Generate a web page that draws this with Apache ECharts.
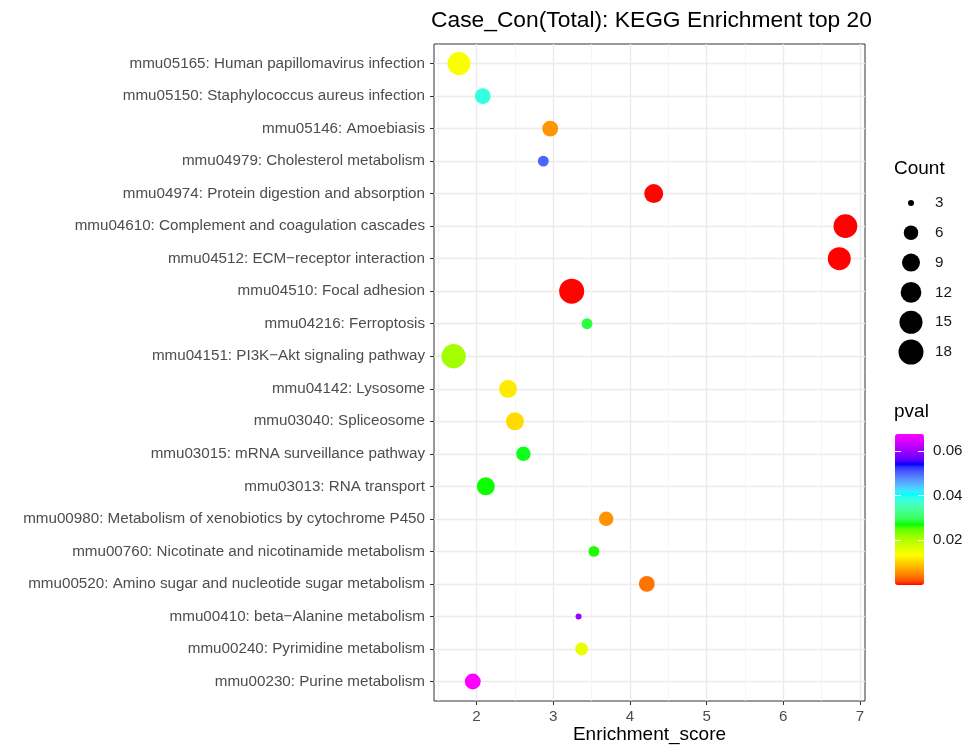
<!DOCTYPE html>
<html>
<head>
<meta charset="utf-8">
<script src="https://cdn.jsdelivr.net/npm/echarts@6/dist/echarts.min.js"></script>
<style>html,body{margin:0;padding:0;background:#fff;overflow:hidden}#c{width:968px;height:747px}</style>
</head>
<body>
<div id="c"></div>
<script>
const terms = [
  "mmu05165: Human papillomavirus infection",
  "mmu05150: Staphylococcus aureus infection",
  "mmu05146: Amoebiasis",
  "mmu04979: Cholesterol metabolism",
  "mmu04974: Protein digestion and absorption",
  "mmu04610: Complement and coagulation cascades",
  "mmu04512: ECM\u2212receptor interaction",
  "mmu04510: Focal adhesion",
  "mmu04216: Ferroptosis",
  "mmu04151: PI3K\u2212Akt signaling pathway",
  "mmu04142: Lysosome",
  "mmu03040: Spliceosome",
  "mmu03015: mRNA surveillance pathway",
  "mmu03013: RNA transport",
  "mmu00980: Metabolism of xenobiotics by cytochrome P450",
  "mmu00760: Nicotinate and nicotinamide metabolism",
  "mmu00520: Amino sugar and nucleotide sugar metabolism",
  "mmu00410: beta\u2212Alanine metabolism",
  "mmu00240: Pyrimidine metabolism",
  "mmu00230: Purine metabolism"
];
const enrichment = [1.77, 2.08, 2.96, 2.87, 4.31, 6.81, 6.73, 3.24, 3.44, 1.70, 2.41, 2.50, 2.61, 2.12, 3.69, 3.53, 4.22, 3.33, 3.37, 1.95];
const counts = [15, 7, 7, 4, 10, 16, 15, 18, 4, 17, 9, 9, 6, 9, 6, 4, 7, 3, 5, 7];
const pvals = [0.0140, 0.0385, 0.0060, 0.0500, 0.0001, 0.00001, 0.00002, 0.00005, 0.0285, 0.0210, 0.0120, 0.0108, 0.0275, 0.0268, 0.0058, 0.0265, 0.0038, 0.0595, 0.0155, 0.0675];

const xMajorTicks = [2, 3, 4, 5, 6, 7];
const xMinorTicks = [1.5, 2.5, 3.5, 4.5, 5.5, 6.5];
const countTicks = [3, 6, 9, 12, 15, 18];
const pvalTicks = [0.02, 0.04, 0.06];
const paletteStops = ['#FF0000', '#FFFF00', '#00FF00', '#00FFFF', '#0000FF', '#FF00FF'];

// palette interpolated in CIE Lab (like ggplot's gradientn)
function hex2rgb(h){return [1,3,5].map(i=>parseInt(h.slice(i,i+2),16)/255);}
function lin(c){return c<=0.04045?c/12.92:Math.pow((c+0.055)/1.055,2.4);}
function delin(c){return c<=0.0031308?12.92*c:1.055*Math.pow(c,1/2.4)-0.055;}
const WX=0.95047, WY=1, WZ=1.08883;
function rgb2lab(rgb){
  const [r,g,b]=rgb.map(lin);
  const X=(0.4124*r+0.3576*g+0.1805*b)/WX, Y=(0.2126*r+0.7152*g+0.0722*b)/WY, Z=(0.0193*r+0.1192*g+0.9505*b)/WZ;
  const f=t=>t>0.008856?Math.cbrt(t):7.787*t+16/116;
  return [116*f(Y)-16, 500*(f(X)-f(Y)), 200*(f(Y)-f(Z))];
}
function lab2hex(lab){
  const fy=(lab[0]+16)/116, fx=fy+lab[1]/500, fz=fy-lab[2]/200;
  const fi=t=>t*t*t>0.008856?t*t*t:(t-16/116)/7.787;
  const X=fi(fx)*WX, Y=fi(fy)*WY, Z=fi(fz)*WZ;
  const r= 3.2406*X-1.5372*Y-0.4986*Z, g=-0.9689*X+1.8758*Y+0.0415*Z, b=0.0557*X-0.2040*Y+1.0570*Z;
  return '#'+[r,g,b].map(c=>{const v=Math.round(Math.min(1,Math.max(0,delin(Math.min(1,Math.max(0,c)))))*255);return v.toString(16).padStart(2,'0');}).join('');
}
const labStops = paletteStops.map(h=>rgb2lab(hex2rgb(h)));
const gradColors = [];
for (let s = 0; s < labStops.length - 1; s++) {
  for (let k = 0; k < 12; k++) {
    const t = k / 12, a = labStops[s], b = labStops[s + 1];
    gradColors.push(lab2hex([0,1,2].map(j => a[j] + (b[j] - a[j]) * t)));
  }
}
gradColors.push(paletteStops[paletteStops.length - 1]);

const cMin = Math.min(...counts), cMax = Math.max(...counts);
function sizeOf(c) { return 6 + 19 * Math.sqrt((c - cMin) / (cMax - cMin)); }

const xMin = Math.min(...enrichment), xMax = Math.max(...enrichment);
const xPad = (xMax - xMin) * 0.05;
const pMin = 0, pMax = Math.max(...pvals);

const mainData = terms.map((t, i) => [enrichment[i], i, counts[i], pvals[i]]);
const legendData = countTicks.map((c, i) => [0.5, i, c]);
const rowIdx = terms.map((t, i) => i);

const FONT = 'Liberation Sans, Arial, sans-serif';
const chart = echarts.init(document.getElementById('c'), null, {renderer: 'canvas', width: 968, height: 747});
chart.setOption({
  animation: false,
  backgroundColor: '#ffffff',
  textStyle: {fontFamily: FONT},
  title: {
    text: 'Case_Con(Total): KEGG Enrichment top 20',
    left: 431, top: 9, padding: 0,
    textStyle: {fontFamily: FONT, fontSize: 22.8, fontWeight: 'normal', color: '#000'}
  },
  grid: [
    {left: 434, right: 103, top: 44, bottom: 46, show: true, borderColor: '#333333', borderWidth: 1, backgroundColor: '#fff', containLabel: false, outerBoundsMode: 'none'},
    {left: 896, width: 30, top: 188, height: 179, show: false, containLabel: false, outerBoundsMode: 'none'},
    {left: 895, width: 29, top: 434, height: 151, show: false, containLabel: false, outerBoundsMode: 'none'}
  ],
  xAxis: [
    {
      gridIndex: 0, type: 'value', min: xMin - xPad, max: xMax + xPad, position: 'bottom',
      name: 'Enrichment_score', nameLocation: 'middle', nameGap: 24, nameMoveOverlap: false,
      nameTextStyle: {fontFamily: FONT, fontSize: 19, color: '#000'},
      axisLine: {show: false, onZero: false},
      axisTick: {show: true, customValues: xMajorTicks, length: 4, lineStyle: {color: '#333333', width: 1}},
      axisLabel: {customValues: xMajorTicks, color: '#4D4D4D', fontSize: 15.2, fontFamily: FONT, margin: 8},
      splitLine: {show: true, lineStyle: {color: '#EBEBEB', width: 1.3}}
    },
    {
      gridIndex: 0, type: 'value', min: xMin - xPad, max: xMax + xPad, position: 'top',
      axisLine: {show: false, onZero: false},
      axisTick: {show: false, customValues: xMinorTicks},
      axisLabel: {show: false, customValues: xMinorTicks},
      splitLine: {show: true, lineStyle: {color: '#F2F2F2', width: 0.8}}
    },
    {gridIndex: 1, type: 'value', min: 0, max: 1, show: false, axisLine: {onZero: false}},
    {gridIndex: 2, type: 'value', min: 0, max: 1, show: false, axisLine: {onZero: false}}
  ],
  yAxis: [
    {
      gridIndex: 0, type: 'value', min: -0.6, max: rowIdx.length - 1 + 0.6, inverse: true, position: 'left',
      axisLine: {show: false, onZero: false},
      axisTick: {show: true, customValues: rowIdx, length: 4, lineStyle: {color: '#333333', width: 1}},
      axisLabel: {customValues: rowIdx, color: '#4D4D4D', fontSize: 15.2, fontFamily: FONT, margin: 9,
        formatter: v => terms[Math.round(v)]},
      splitLine: {show: true, lineStyle: {color: '#EBEBEB', width: 1.3}}
    },
    {
      gridIndex: 1, type: 'category', data: countTicks.map(String), inverse: true, position: 'right',
      axisLine: {show: false, onZero: false}, axisTick: {show: false}, splitLine: {show: false},
      axisLabel: {color: '#1A1A1A', fontSize: 15.2, fontFamily: FONT, margin: 9, align: 'left'}
    },
    {
      gridIndex: 2, type: 'value', min: pMin, max: pMax, interval: 0.02, position: 'right', z: 10,
      axisLine: {show: false, onZero: false}, splitLine: {show: false},
      axisTick: {show: true, inside: true, length: 6, customValues: pvalTicks, lineStyle: {color: '#ffffff', width: 1}},
      axisLabel: {customValues: pvalTicks, color: '#1A1A1A', fontSize: 15.2, fontFamily: FONT, margin: 9,
        formatter: v => v.toFixed(2)}
    },
    {
      gridIndex: 2, type: 'value', min: pMin, max: pMax, interval: 0.02, position: 'left', z: 10,
      axisLine: {show: false, onZero: false}, splitLine: {show: false},
      axisTick: {show: true, inside: true, length: 6, customValues: pvalTicks, lineStyle: {color: '#ffffff', width: 1}},
      axisLabel: {show: false}
    }
  ],
  visualMap: [{
    type: 'continuous', seriesIndex: 0, dimension: 3,
    min: pMin, max: pMax,
    left: 895, top: 434, itemWidth: 29, itemHeight: 151, padding: 0,
    calculable: false, text: null, showLabel: false, hoverLink: false,
    inRange: {color: gradColors}
  }],
  graphic: [
    {type: 'text', left: 894, top: 159, style: {text: 'Count', font: '19px ' + FONT, fill: '#000'}},
    {type: 'text', left: 894, top: 402, style: {text: 'pval', font: '19px ' + FONT, fill: '#000'}}
  ],
  series: [
    {
      type: 'scatter', xAxisIndex: 0, yAxisIndex: 0, data: mainData,
      encode: {x: 0, y: 1},
      symbolSize: d => sizeOf(d[2]),
      itemStyle: {opacity: 1},
      z: 5
    },
    {
      type: 'scatter', xAxisIndex: 2, yAxisIndex: 1, data: legendData,
      encode: {x: 0, y: 1},
      symbolSize: d => sizeOf(d[2]),
      itemStyle: {color: '#000', opacity: 1}
    }
  ]
});
</script>
</body>
</html>
